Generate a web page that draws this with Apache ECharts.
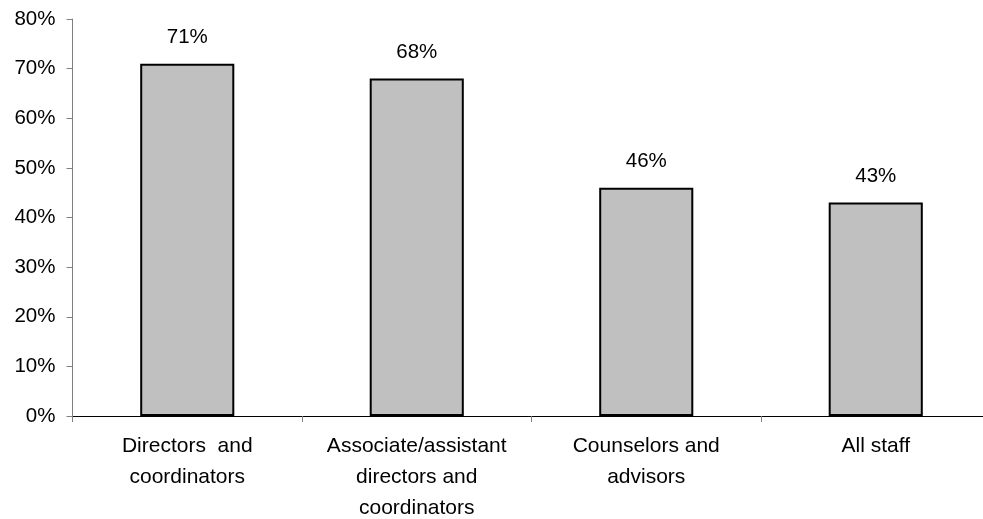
<!DOCTYPE html>
<html>
<head>
<meta charset="utf-8">
<script src="https://cdn.jsdelivr.net/npm/echarts@6/dist/echarts.min.js"></script>
<style>
  html, body { margin: 0; padding: 0; background: #fff; }
  #chart { width: 983px; height: 519px; }
</style>
</head>
<body>
<div id="chart"></div>
<script>
// Share of staff by role (percent)
const categories = [
  'Directors  and\ncoordinators',
  'Associate/assistant\ndirectors and\ncoordinators',
  'Counselors and\nadvisors',
  'All staff'
];
const values = [71, 68, 46, 43];
const yTicks = { min: 0, max: 80, interval: 10 };

const chart = echarts.init(document.getElementById('chart'));
const font = 'Liberation Sans, Arial, sans-serif';

chart.setOption({
  animation: false,
  grid: {
    left: 72.5, top: 19, right: -7.5, bottom: 103,
    containLabel: false, outerBoundsMode: 'none'
  },
  xAxis: {
    type: 'category',
    data: categories,
    axisLine: { lineStyle: { color: '#000', width: 1 } },
    axisTick: { show: true, length: 6, lineStyle: { color: '#808080' } },
    axisLabel: {
      color: '#000', fontFamily: font, fontSize: 21, lineHeight: 31,
      margin: 15, interval: 0
    },
    splitLine: { show: false }
  },
  yAxis: {
    type: 'value',
    min: yTicks.min, max: yTicks.max, interval: yTicks.interval,
    axisLine: { show: true, lineStyle: { color: '#808080', width: 1 } },
    axisTick: { show: true, length: 6, lineStyle: { color: '#808080' } },
    axisLabel: {
      color: '#000', fontFamily: font, fontSize: 20.5, margin: 17,
      formatter: v => v + '%'
    },
    splitLine: { show: false }
  },
  series: [{
    type: 'bar',
    data: values,
    barWidth: '41%',
    itemStyle: { color: '#c0c0c0', borderColor: '#000', borderWidth: 2 },
    label: {
      show: true, position: 'top', distance: 16,
      color: '#000', fontFamily: font, fontSize: 20.5,
      formatter: p => p.value + '%'
    }
  }]
});
</script>
</body>
</html>
